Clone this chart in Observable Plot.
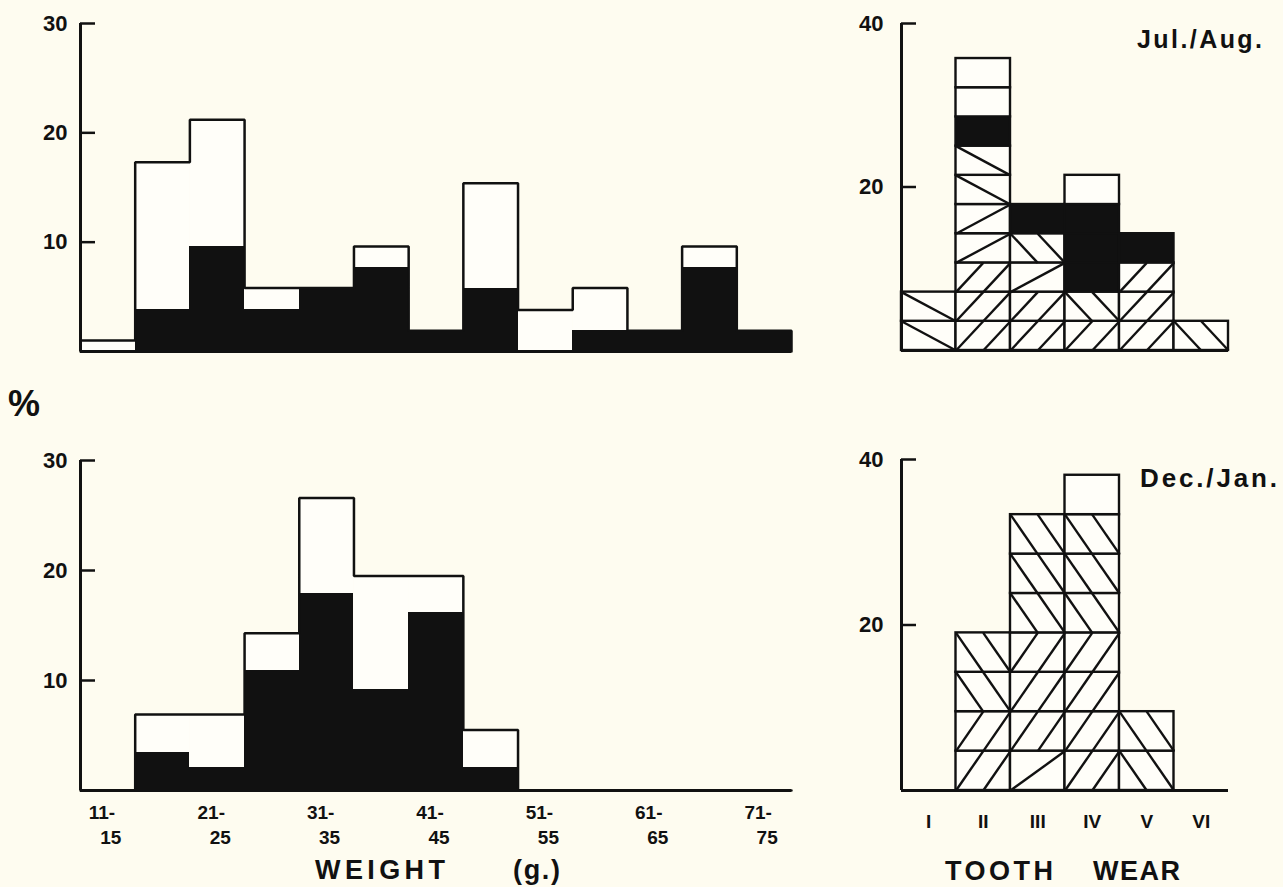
<!DOCTYPE html>
<html><head><meta charset="utf-8">
<script src="https://cdn.jsdelivr.net/npm/d3@7"></script>
<script src="https://cdn.jsdelivr.net/npm/@observablehq/plot@0.6"></script>
<style>
html,body{margin:0;padding:0;background:#fefcf0;}
#page{position:relative;width:1283px;height:887px;overflow:hidden;background:#fefcf0;font-family:"Liberation Sans",Arial,Helvetica,sans-serif;color:#111;}
#page > svg, #page > div{position:absolute;}
</style></head><body><div id="page"></div>
<script>
const FONT = '"Liberation Sans", Arial, Helvetica, sans-serif';
const INK = "#111";

// ---- Weight histograms (percent) ----
const weightLow = [11,16,21,26,31,36,41,46,51,56,61,66,71];
const julAugTotal = [1.0,17.3,21.2,5.8,5.8,9.6,1.9,15.4,3.8,5.8,1.9,9.6,1.9];
const julAugBlack = [0,3.8,9.6,3.8,5.8,7.7,1.9,5.8,0,1.9,1.9,7.7,1.9];
const decJanTotal = [0,6.9,6.9,14.3,26.6,19.5,19.5,5.5,0,0,0,0,0];
const decJanBlack = [0,3.5,2.1,10.9,17.9,9.2,16.2,2.1,0,0,0,0,0];
const weightTickLow = [11,21,31,41,51,61,71];
const weightTickTop = ["11-","21-","31-","41-","51-","61-","71-"];
const weightTickBottom = ["15","25","35","45","55","65","75"];
const weightYTicks = [10,20,30];

// ---- Tooth wear: one block per animal, pattern codes bottom -> top ----
const toothClasses = ["I","II","III","IV","V","VI"];
const toothJulAug = [
  ["b1","b1"],
  ["f2","f2","f2","f1","f1","b1","b1","black","empty","empty"],
  ["f2","f2","f1","b2","black"],
  ["f2","b2","black","black","black","empty"],
  ["f2","f2","f2","black"],
  ["b2"]
];
const toothDecJan = [
  [],
  ["f2","f2","b2","b2"],
  ["f1","f2","f2","f2","b2","b2","b2"],
  ["f2","f2","f2","f2","b2","b2","b2","empty"],
  ["b2","b2"],
  []
];
const toothYTicks = [20,40];

const page = document.getElementById("page");
function place(el, left, top) { el.style.left = left + "px"; el.style.top = top + "px"; page.appendChild(el); }

function weightChart({total, black, height, marginTop, marginBottom, showX}) {
  const bins = weightLow.map((lo, i) => ({lo, x1: lo - 0.5, x2: lo + 4.5, total: total[i], black: black[i]}));
  const first = bins[0], last = bins[bins.length - 1];
  const outline = [{x: first.x1, y: 0}, ...bins.map(b => ({x: b.x1, y: b.total})), {x: last.x2, y: last.total}, {x: last.x2, y: 0}];
  const yMax = d3.max(weightYTicks);
  const marks = [
    Plot.rect(bins, {x1: "x1", x2: "x2", y1: 0, y2: "total", fill: "#fffef9"}),
    Plot.rect(bins, {x1: "x1", x2: "x2", y1: 0, y2: "black", fill: INK, shapeRendering: "crispEdges"}),
    Plot.line(outline, {x: "x", y: "y", curve: "step-after", stroke: INK, strokeWidth: 2.5, strokeLinejoin: "miter"}),
    Plot.ruleY([0], {stroke: INK, strokeWidth: 3}),
    Plot.ruleX([first.x1], {y1: 0, y2: yMax, stroke: INK, strokeWidth: 3}),
    Plot.axisY(weightYTicks, {tickSize: -15, tickPadding: 28, strokeWidth: 2.5, fontSize: 22, fontWeight: "bold", fill: INK, stroke: INK})
  ];
  if (showX) {
    marks.push(
      Plot.text(weightTickLow, {x: d => d + 2, y: 0, text: (d, i) => weightTickTop[i], dy: 28, dx: -6, lineAnchor: "bottom", fontSize: 19, fontWeight: "bold", fill: INK}),
      Plot.text(weightTickLow, {x: d => d + 2, y: 0, text: (d, i) => weightTickBottom[i], dy: 53, dx: 3, lineAnchor: "bottom", fontSize: 19, fontWeight: "bold", fill: INK})
    );
  }
  return Plot.plot({
    width: 800, height, marginLeft: 80, marginRight: 9, marginTop, marginBottom,
    x: {domain: [first.x1, last.x2], axis: null},
    y: {domain: [0, yMax], axis: null},
    style: {background: "transparent", fontFamily: FONT, color: INK, overflow: "visible"},
    marks
  });
}

function toothChart({columns, height, marginTop, marginBottom, showX}) {
  const n = d3.sum(columns, c => c.length);
  const u = 100 / n;
  const blocks = [];
  columns.forEach((col, i) => col.forEach((pattern, k) => blocks.push({x1: i + 0.5, x2: i + 1.5, y1: k * u, y2: (k + 1) * u, pattern})));
  const segs = [];
  for (const b of blocks) {
    const xm = (b.x1 + b.x2) / 2;
    if (b.pattern === "f1") segs.push({x1: b.x1, y1: b.y1, x2: b.x2, y2: b.y2});
    if (b.pattern === "b1") segs.push({x1: b.x1, y1: b.y2, x2: b.x2, y2: b.y1});
    if (b.pattern === "f2") segs.push({x1: b.x1, y1: b.y1, x2: xm, y2: b.y2}, {x1: xm, y1: b.y1, x2: b.x2, y2: b.y2});
    if (b.pattern === "b2") segs.push({x1: b.x1, y1: b.y2, x2: xm, y2: b.y1}, {x1: xm, y1: b.y2, x2: b.x2, y2: b.y1});
  }
  const yMax = d3.max(toothYTicks);
  const marks = [
    Plot.rect(blocks, {x1: "x1", x2: "x2", y1: "y1", y2: "y2", fill: d => d.pattern === "black" ? INK : "#fffef9", stroke: INK, strokeWidth: 2.4}),
    Plot.link(segs, {x1: "x1", y1: "y1", x2: "x2", y2: "y2", stroke: INK, strokeWidth: 2.4}),
    Plot.ruleY([0], {stroke: INK, strokeWidth: 3}),
    Plot.ruleX([0.5], {y1: 0, y2: yMax, stroke: INK, strokeWidth: 3}),
    Plot.axisY(toothYTicks, {tickSize: -15, tickPadding: 33, strokeWidth: 2.5, fontSize: 22, fontWeight: "bold", fill: INK, stroke: INK})
  ];
  if (showX) {
    marks.push(Plot.text(toothClasses, {x: (d, i) => i + 1, y: 0, text: d => d, dy: 37, lineAnchor: "bottom", fontSize: 19, fontWeight: "bold", fill: INK}));
  }
  return Plot.plot({
    width: 443, height, marginLeft: 61, marginRight: 55, marginTop, marginBottom,
    x: {domain: [0.5, toothClasses.length + 0.5], axis: null},
    y: {domain: [0, yMax], axis: null},
    style: {background: "transparent", fontFamily: FONT, color: INK, overflow: "visible"},
    marks
  });
}

place(weightChart({total: julAugTotal, black: julAugBlack, height: 360, marginTop: 23, marginBottom: 9, showX: false}), 0, 0);
place(weightChart({total: decJanTotal, black: decJanBlack, height: 447, marginTop: 20, marginBottom: 97, showX: true}), 0, 440);
place(toothChart({columns: toothJulAug, height: 360, marginTop: 23, marginBottom: 10, showX: false}), 840, 0);
place(toothChart({columns: toothDecJan, height: 447, marginTop: 19, marginBottom: 97, showX: true}), 840, 440);

// overlay text labels
const ns = "http://www.w3.org/2000/svg";
const ov = document.createElementNS(ns, "svg");
ov.setAttribute("width", 1283); ov.setAttribute("height", 887);
ov.style.pointerEvents = "none";
function label(txt, x, y, size, len, weight = "bold") {
  const t = document.createElementNS(ns, "text");
  t.setAttribute("x", x); t.setAttribute("y", y);
  t.setAttribute("font-size", size); t.setAttribute("font-weight", weight);
  t.setAttribute("font-family", FONT); t.setAttribute("fill", INK);
  if (len) { t.setAttribute("textLength", len); t.setAttribute("lengthAdjust", "spacing"); }
  t.textContent = txt; ov.appendChild(t);
}
label("Jul./Aug.", 1137, 48, 25, 125);
label("Dec./Jan.", 1140, 487, 26, 137);
label("%", 8, 416, 36, 27);
label("WEIGHT", 315, 879, 27, 130);
label("(g.)", 513, 879, 27, 47);
label("TOOTH", 945, 880, 27, 108);
label("WEAR", 1093, 880, 27, 87);
place(ov, 0, 0);
</script></body></html>
